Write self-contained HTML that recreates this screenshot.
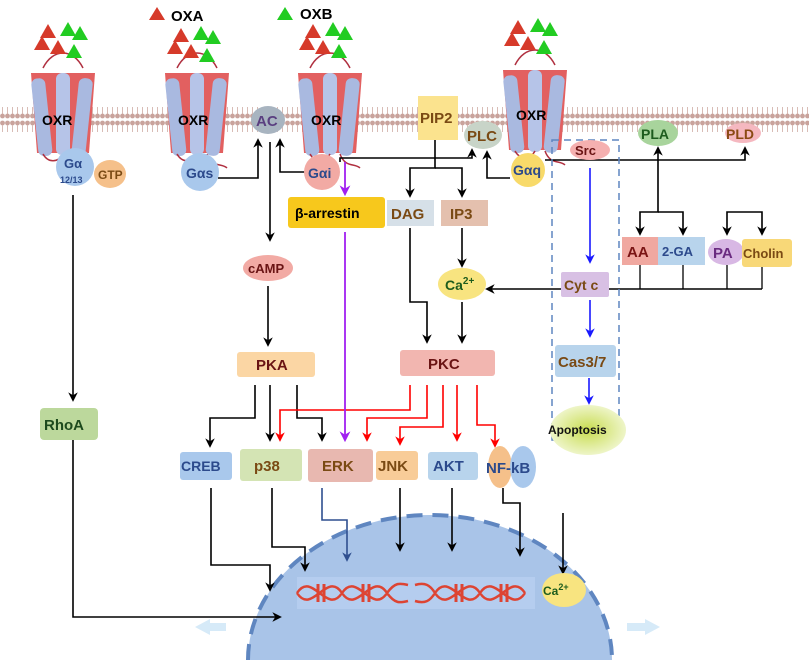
<!DOCTYPE html>
<html><head><meta charset="utf-8"><style>
html,body{margin:0;padding:0;background:#fff;width:809px;height:660px;overflow:hidden}
svg{display:block}
text{font-family:"Liberation Sans",sans-serif;font-weight:bold}
</style></head><body>
<svg width="809" height="660" viewBox="0 0 809 660" xmlns="http://www.w3.org/2000/svg">
<defs>
<marker id="ak" viewBox="0 0 10 10" refX="8" refY="5" markerWidth="6" markerHeight="6" orient="auto"><path d="M0,0 L10,5 L0,10 L3,5 z" fill="#000"/></marker>
<marker id="ar" viewBox="0 0 10 10" refX="8" refY="5" markerWidth="6" markerHeight="6" orient="auto"><path d="M0,0 L10,5 L0,10 L3,5 z" fill="#f00"/></marker>
<marker id="ab" viewBox="0 0 10 10" refX="8" refY="5" markerWidth="6" markerHeight="6" orient="auto"><path d="M0,0 L10,5 L0,10 L3,5 z" fill="#1a1aff"/></marker>
<marker id="ap" viewBox="0 0 10 10" refX="8" refY="5" markerWidth="6" markerHeight="6" orient="auto"><path d="M0,0 L10,5 L0,10 L3,5 z" fill="#a020f0"/></marker>
<marker id="an" viewBox="0 0 10 10" refX="8" refY="5" markerWidth="6" markerHeight="6" orient="auto"><path d="M0,0 L10,5 L0,10 L3,5 z" fill="#2f4f8f"/></marker>
<pattern id="lip" width="5" height="30" patternUnits="userSpaceOnUse">
<circle cx="2.5" cy="3" r="2.4" fill="#c9a39c"/><line x1="2.5" y1="5" x2="2.5" y2="12" stroke="#d8bcb6" stroke-width="1"/>
<line x1="2.5" y1="17" x2="2.5" y2="24" stroke="#d8bcb6" stroke-width="1"/><circle cx="2.5" cy="26" r="2.4" fill="#c9a39c"/>
</pattern>
<radialGradient id="apg"><stop offset="0" stop-color="#c8dc50"/><stop offset="1" stop-color="#eef5c8"/></radialGradient>
<g id="rec">
<path d="M-32,-45 L32,-45 L26,35 L-26,35 z" fill="#e26060"/>
<path d="M-20,-50 C-10,-70 10,-70 20,-50" fill="none" stroke="#b03040" stroke-width="1.5"/>
<rect x="-28" y="-42" width="14" height="78" rx="6" fill="#a9b9e0" transform="rotate(-6)"/>
<rect x="-7" y="-45" width="14" height="82" rx="6" fill="#b6c4e8"/>
<rect x="12" y="-42" width="14" height="78" rx="6" fill="#a9b9e0" transform="rotate(6)"/>
<path d="M-20,36 C-15,45 -5,45 0,36 M10,36 C15,50 25,45 30,50" fill="none" stroke="#b03040" stroke-width="1.5"/>
</g>
<g id="lig">
<polygon points="-20,-10 -12,-24 -4,-10" fill="#d63a2a"/><polygon points="-26,2 -18,-12 -10,2" fill="#d63a2a"/><polygon points="-10,6 -2,-8 6,6" fill="#d63a2a"/>
<polygon points="0,-12 8,-26 16,-12" fill="#22cc22"/><polygon points="12,-8 20,-22 28,-8" fill="#22cc22"/><polygon points="6,10 14,-4 22,10" fill="#22cc22"/>
</g>
</defs>

<path d="M248,660 A182,145 0 0 1 612,660 Z" fill="#a9c4e8"/>
<path d="M248,660 A182,145 0 0 1 612,660" fill="none" stroke="#5f86c0" stroke-width="4" stroke-dasharray="16,10"/>
<rect x="297" y="577" width="238" height="32" fill="#b8cff0" opacity="0.8"/>
<path d="M297,593 C312,570 327,616 342,593 C357,570 372,616 387,593 C395,582 400,583 408,585 M297,593 C312,616 327,570 342,593 C357,616 372,570 387,593 C395,604 400,603 408,601 M415,585 C425,582 430,585 435,593 C450,616 465,570 480,593 C495,616 510,570 525,593 M415,601 C425,604 430,601 435,593 C450,570 465,616 480,593 C495,570 510,616 525,593" fill="none" stroke="#dd4433" stroke-width="2.5"/>
<g stroke="#dd4433" stroke-width="3"><line x1="318" y1="584" x2="318" y2="602"/><line x1="324" y1="584" x2="324" y2="602"/><line x1="363" y1="584" x2="363" y2="602"/><line x1="369" y1="584" x2="369" y2="602"/><line x1="456" y1="584" x2="456" y2="602"/><line x1="462" y1="584" x2="462" y2="602"/><line x1="501" y1="584" x2="501" y2="602"/><line x1="507" y1="584" x2="507" y2="602"/></g>
<polygon points="195,627 210,619 210,635" fill="#d6eaf8"/><rect x="210" y="623" width="16" height="8" fill="#d6eaf8"/>
<polygon points="660,627 645,619 645,635" fill="#d6eaf8"/><rect x="627" y="623" width="18" height="8" fill="#d6eaf8"/>

<rect x="0" y="106" width="809" height="30" fill="url(#lip)"/>

<polygon points="149,20 157,7 165,20" fill="#d63a2a"/><text x="171" y="21" font-size="15">OXA</text>
<polygon points="277,20 285,7 293,20" fill="#22cc22"/><text x="300" y="19" font-size="15">OXB</text>

<use href="#rec" x="63" y="118"/><use href="#lig" x="60" y="48"/>
<use href="#rec" x="197" y="118"/><use href="#lig" x="193" y="52"/>
<use href="#rec" x="330" y="118"/><use href="#lig" x="325" y="48"/>
<use href="#rec" x="535" y="115"/><use href="#lig" x="530" y="44"/>
<g font-size="14"><text x="42" y="125">OXR</text><text x="178" y="125">OXR</text><text x="311" y="125">OXR</text><text x="516" y="120">OXR</text></g>

<g stroke="#000" stroke-width="1.6" fill="none" marker-end="url(#ak)">
<polyline points="73,195 73,400"/>
<polyline points="218,178 258,178 258,140"/>
<polyline points="305,172 280,172 280,140"/>
<polyline points="270,142 270,240"/>
<polyline points="268,286 268,345"/>
<polyline points="340,162 340,158 472,158 472,150"/>
<polyline points="510,178 487,178 487,152"/>
<polyline points="435,140 435,168 410,168 410,196"/>
<polyline points="435,168 462,168 462,196"/>
<polyline points="462,228 462,266"/>
<polyline points="410,228 410,302 427,302 427,342"/>
<polyline points="462,302 462,342"/>
<polyline points="762,289 487,289"/>
<polyline points="545,160 745,160 745,148"/>
<polyline points="658,160 658,148"/>
<polyline points="658,160 658,212 640,212 640,234"/>
<polyline points="658,212 683,212 683,234"/>
<polyline points="745,212 727,212 727,234"/>
<polyline points="745,212 762,212 762,234"/>
<polyline points="255,385 255,418 210,418 210,446"/>
<polyline points="270,385 270,440"/>
<polyline points="297,385 297,418 322,418 322,440"/>
<polyline points="73,440 73,617 280,617"/>
<polyline points="211,488 211,565 270,565 270,590"/>
<polyline points="272,488 272,547 305,547 305,570"/>
<polyline points="400,488 400,550"/>
<polyline points="452,488 452,550"/>
<polyline points="503,488 503,503 520,503 520,555"/>
<polyline points="563,513 563,573"/>
</g>
<g stroke="#000" stroke-width="1.3" fill="none">
<polyline points="640,265 640,289"/><polyline points="683,265 683,289"/><polyline points="727,265 727,289"/><polyline points="762,265 762,289"/>
</g>
<polyline points="322,488 322,520 347,520 347,560" stroke="#2f4f8f" stroke-width="1.6" fill="none" marker-end="url(#an)"/>
<g stroke="#f00" stroke-width="1.6" fill="none" marker-end="url(#ar)">
<polyline points="410,385 410,410 280,410 280,440"/>
<polyline points="427,385 427,418 367,418 367,440"/>
<polyline points="443,385 443,427 400,427 400,444"/>
<polyline points="457,385 457,440"/>
<polyline points="477,385 477,425 495,425 495,446"/>
</g>
<polyline points="345,162 345,194" stroke="#a020f0" stroke-width="1.8" fill="none" marker-end="url(#ap)"/>
<polyline points="345,232 345,440" stroke="#a020f0" stroke-width="1.8" fill="none" marker-end="url(#ap)"/>
<g stroke="#1a1aff" stroke-width="1.6" fill="none" marker-end="url(#ab)">
<polyline points="590,168 590,262"/><polyline points="590,300 590,336"/><polyline points="589,378 589,403"/>
</g>
<rect x="552" y="140" width="67" height="300" fill="none" stroke="#5f86c0" stroke-width="1.5" stroke-dasharray="7,5"/>

<circle cx="75" cy="167" r="19" fill="#a9c8ec"/><text x="64" y="168" font-size="13" fill="#2c4a8c">Gα</text><text x="60" y="183" font-size="9" fill="#2c4a8c">12/13</text>
<ellipse cx="110" cy="174" rx="16" ry="14" fill="#f5c08a"/><text x="98" y="179" font-size="12" fill="#7a4a14">GTP</text>
<circle cx="200" cy="172" r="19" fill="#a9c8ec"/><text x="186" y="178" font-size="14" fill="#2c4a8c">Gαs</text>
<ellipse cx="268" cy="120" rx="17" ry="14" fill="#a8b4c0"/><text x="256" y="126" font-size="15" fill="#5a3f80" font-weight="normal">AC</text>
<circle cx="322" cy="172" r="18" fill="#f2aaa4"/><text x="308" y="178" font-size="14" fill="#2c4a8c">Gαi</text>
<rect x="288" y="197" width="97" height="31" rx="3" fill="#f7c81c"/><text x="295" y="218" font-size="14">β-arrestin</text>
<rect x="387" y="200" width="47" height="26" fill="#d6e0e8"/><text x="391" y="219" font-size="15" fill="#7a4a14">DAG</text>
<rect x="441" y="200" width="47" height="26" fill="#e4c0ae"/><text x="450" y="219" font-size="15" fill="#7a4a14">IP3</text>
<rect x="418" y="96" width="40" height="44" fill="#fbe38e"/><text x="420" y="123" font-size="15" fill="#7a4a14">PIP2</text>
<ellipse cx="483" cy="135" rx="19" ry="14" fill="#c8d4c8"/><text x="467" y="141" font-size="15" fill="#7a4a14">PLC</text>
<circle cx="528" cy="170" r="17" fill="#f8da6a"/><text x="513" y="175" font-size="14" fill="#2c4a8c">Gαq</text>
<ellipse cx="590" cy="150" rx="20" ry="10" fill="#f5b0b0"/><text x="575" y="155" font-size="13" fill="#6a1414">Src</text>
<ellipse cx="658" cy="133" rx="20" ry="13" fill="#a8d49c"/><text x="641" y="139" font-size="14" fill="#1d5c1d">PLA</text>
<ellipse cx="743" cy="133" rx="18" ry="10" fill="#f5b8c0"/><text x="726" y="139" font-size="14" fill="#8a4a14">PLD</text>
<rect x="622" y="237" width="36" height="28" fill="#f0a8a0"/><text x="627" y="257" font-size="15" fill="#7a1414">AA</text>
<rect x="658" y="237" width="47" height="28" fill="#b8d4ec"/><text x="662" y="256" font-size="13" fill="#2c4a8c">2-GA</text>
<ellipse cx="726" cy="252" rx="18" ry="13" fill="#d8b8e4"/><text x="713" y="258" font-size="15" fill="#6a2a80">PA</text>
<rect x="742" y="239" width="50" height="28" rx="3" fill="#f8d878"/><text x="743" y="258" font-size="13" fill="#7a4a14">Cholin</text>
<rect x="561" y="272" width="48" height="25" rx="2" fill="#d8c0e4"/><text x="564" y="290" font-size="14" fill="#7a4a14">Cyt c</text>
<ellipse cx="462" cy="284" rx="24" ry="16" fill="#f8e480"/><text x="445" y="290" font-size="14" fill="#1d5c1d">Ca<tspan font-size="10" dy="-6">2+</tspan></text>
<ellipse cx="268" cy="268" rx="25" ry="13" fill="#f2aaa4"/><text x="248" y="273" font-size="13" fill="#6a1414">cAMP</text>
<rect x="237" y="352" width="78" height="25" rx="3" fill="#fbd6a4"/><text x="256" y="370" font-size="15" fill="#6a1414">PKA</text>
<rect x="400" y="350" width="95" height="26" rx="3" fill="#f2b6b0"/><text x="428" y="369" font-size="15" fill="#6a1414">PKC</text>
<rect x="555" y="345" width="61" height="32" rx="3" fill="#b8d4ec"/><text x="558" y="367" font-size="15" fill="#7a4a14">Cas3/7</text>
<ellipse cx="588" cy="430" rx="38" ry="25" fill="url(#apg)"/><text x="548" y="434" font-size="12" fill="#111">Apoptosis</text>
<rect x="40" y="408" width="58" height="32" rx="4" fill="#bcd89c"/><text x="44" y="430" font-size="15" fill="#1d4a1d">RhoA</text>
<rect x="180" y="452" width="52" height="28" rx="3" fill="#a9c8ec"/><text x="181" y="471" font-size="14" fill="#2c4a8c">CREB</text>
<rect x="240" y="449" width="62" height="32" rx="3" fill="#d4e4b4"/><text x="254" y="471" font-size="15" fill="#7a4a14">p38</text>
<rect x="308" y="449" width="65" height="33" rx="3" fill="#e8b8b0"/><text x="322" y="471" font-size="15" fill="#7a4a14">ERK</text>
<rect x="376" y="451" width="42" height="29" rx="3" fill="#f8cc98"/><text x="378" y="471" font-size="15" fill="#7a4a14">JNK</text>
<rect x="428" y="452" width="50" height="28" rx="3" fill="#b8d4ec"/><text x="433" y="471" font-size="15" fill="#2c4a8c">AKT</text>
<ellipse cx="500" cy="467" rx="12" ry="21" fill="#f5c08a"/><ellipse cx="523" cy="467" rx="13" ry="21" fill="#a9c8ec"/>
<text x="486" y="473" font-size="15" fill="#2c4a8c">NF-kB</text>
<ellipse cx="564" cy="590" rx="22" ry="17" fill="#f8e480"/><text x="543" y="595" font-size="12" fill="#1d5c1d">Ca<tspan font-size="9" dy="-5">2+</tspan></text>
</svg>
</body></html>
